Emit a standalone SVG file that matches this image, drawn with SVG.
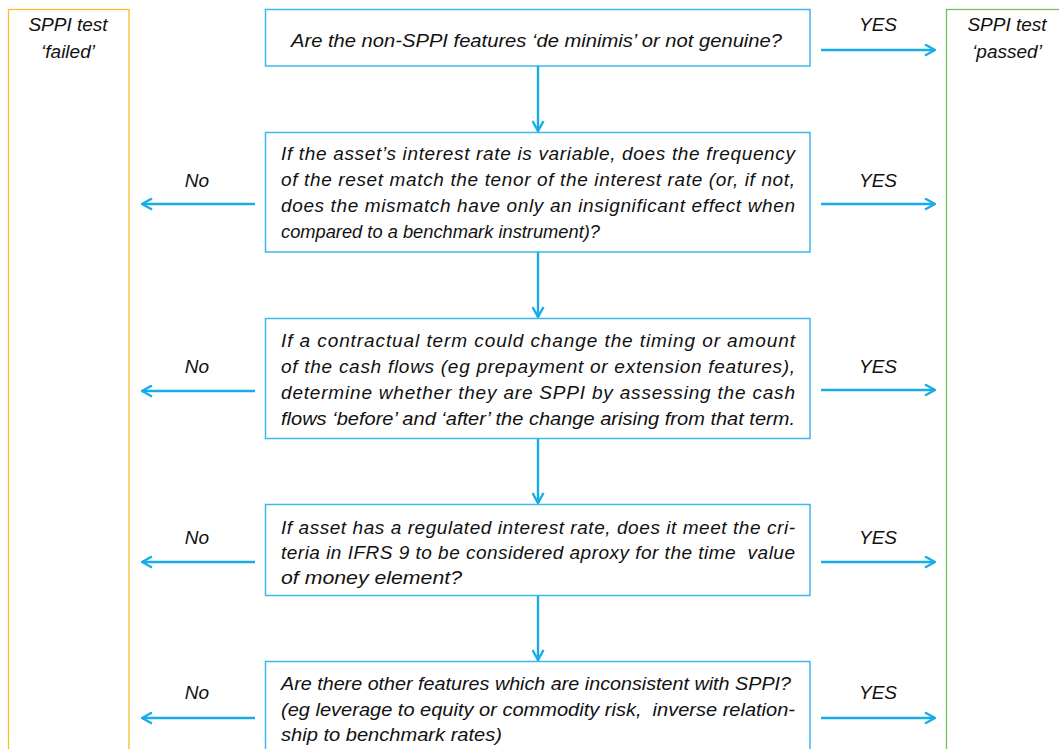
<svg xmlns="http://www.w3.org/2000/svg" width="1059" height="749" viewBox="0 0 1059 749">
<style>
text{font-family:"Liberation Sans",Arial,sans-serif;font-style:italic;font-size:19px;fill:#111}
.pre{white-space:pre}
.box{fill:#fff;stroke:#3cb8ea;stroke-width:1.5}
.lbl{text-anchor:middle}
.c{fill:none;stroke:#19ace6;stroke-width:2.4}
</style>
<defs>
<marker id="ah" viewBox="0 0 13 13" refX="12" refY="6.5" markerWidth="13" markerHeight="13" markerUnits="userSpaceOnUse" orient="auto">
<path d="M2,1 L12,6.5 L2,12" fill="none" stroke="#19ace6" stroke-width="2.4"/>
</marker>
</defs>
<rect width="1059" height="749" fill="#fff"/>
<g id="failed">
<rect x="8.5" y="9.5" width="120.5" height="760" fill="none" stroke="#f5bd2e" stroke-width="1.3"/>
<text class="lbl" x="68" y="31">SPPI test</text>
<text class="lbl" x="68" y="58">‘failed’</text>
</g>
<g id="passed">
<rect x="946.5" y="9.5" width="130" height="760" fill="none" stroke="#72c15f" stroke-width="1.3"/>
<text class="lbl" x="1007" y="31">SPPI test</text>
<text class="lbl" x="1007" y="58">‘passed’</text>
</g>
<g id="q1">
<rect class="box" x="265.5" y="9.5" width="544.5" height="56.5"/>
<text x="291" y="47" textLength="491" lengthAdjust="spacingAndGlyphs">Are the non-SPPI features ‘de minimis’ or not genuine?</text>
</g>
<g id="q2">
<rect class="box" x="265.5" y="132.5" width="544.5" height="119.5"/>
<text x="281" y="160" textLength="514" lengthAdjust="spacing">If the asset’s interest rate is variable, does the frequency</text>
<text x="281" y="186" textLength="514" lengthAdjust="spacing">of the reset match the tenor of the interest rate (or, if not,</text>
<text x="281" y="212" textLength="514" lengthAdjust="spacing">does the mismatch have only an insignificant effect when</text>
<text x="281" y="238" textLength="319" lengthAdjust="spacingAndGlyphs">compared to a benchmark instrument)?</text>
</g>
<g id="q3">
<rect class="box" x="265.5" y="318.5" width="544.5" height="120"/>
<text x="281" y="347" textLength="514" lengthAdjust="spacing">If a contractual term could change the timing or amount</text>
<text x="281" y="373" textLength="514" lengthAdjust="spacing">of the cash flows (eg prepayment or extension features),</text>
<text x="281" y="399" textLength="514" lengthAdjust="spacing">determine whether they are SPPI by assessing the cash</text>
<text x="281" y="425" textLength="514" lengthAdjust="spacingAndGlyphs">flows ‘before’ and ‘after’ the change arising from that term.</text>
</g>
<g id="q4">
<rect class="box" x="265.5" y="504.5" width="544.5" height="91"/>
<text x="281" y="534" textLength="514" lengthAdjust="spacing">If asset has a regulated interest rate, does it meet the cri-</text>
<text class="pre" x="281" y="559" textLength="514" lengthAdjust="spacing">teria in IFRS 9 to be considered aproxy for the time  value</text>
<text x="281" y="584" textLength="181" lengthAdjust="spacingAndGlyphs">of money element?</text>
</g>
<g id="q5">
<rect class="box" x="265.5" y="661.5" width="544.5" height="120"/>
<text x="281" y="690" textLength="510" lengthAdjust="spacingAndGlyphs">Are there other features which are inconsistent with SPPI?</text>
<text class="pre" x="281" y="716" textLength="514" lengthAdjust="spacingAndGlyphs">(eg leverage to equity or commodity risk,  inverse relation-</text>
<text x="281" y="741" textLength="221" lengthAdjust="spacingAndGlyphs">ship to benchmark rates)</text>
</g>
<g id="connectors">
<line class="c" x1="538" y1="66" x2="538" y2="131" marker-end="url(#ah)"/>
<line class="c" x1="538" y1="252" x2="538" y2="317" marker-end="url(#ah)"/>
<line class="c" x1="538" y1="439" x2="538" y2="503" marker-end="url(#ah)"/>
<line class="c" x1="538" y1="596" x2="538" y2="660" marker-end="url(#ah)"/>
<line class="c" x1="821" y1="50" x2="935" y2="50" marker-end="url(#ah)"/>
<line class="c" x1="821" y1="204" x2="935" y2="204" marker-end="url(#ah)"/>
<line class="c" x1="821" y1="390" x2="935" y2="390" marker-end="url(#ah)"/>
<line class="c" x1="821" y1="562" x2="935" y2="562" marker-end="url(#ah)"/>
<line class="c" x1="821" y1="718" x2="935" y2="718" marker-end="url(#ah)"/>
<line class="c" x1="255" y1="204" x2="142" y2="204" marker-end="url(#ah)"/>
<line class="c" x1="255" y1="391" x2="142" y2="391" marker-end="url(#ah)"/>
<line class="c" x1="255" y1="562" x2="142" y2="562" marker-end="url(#ah)"/>
<line class="c" x1="255" y1="718" x2="142" y2="718" marker-end="url(#ah)"/>
<text class="lbl" x="878" y="31">YES</text>
<text class="lbl" x="878" y="187">YES</text>
<text class="lbl" x="878" y="373">YES</text>
<text class="lbl" x="878" y="544">YES</text>
<text class="lbl" x="878" y="699">YES</text>
<text class="lbl" x="197" y="187">No</text>
<text class="lbl" x="197" y="373">No</text>
<text class="lbl" x="197" y="544">No</text>
<text class="lbl" x="197" y="699">No</text>
</g>
</svg>
